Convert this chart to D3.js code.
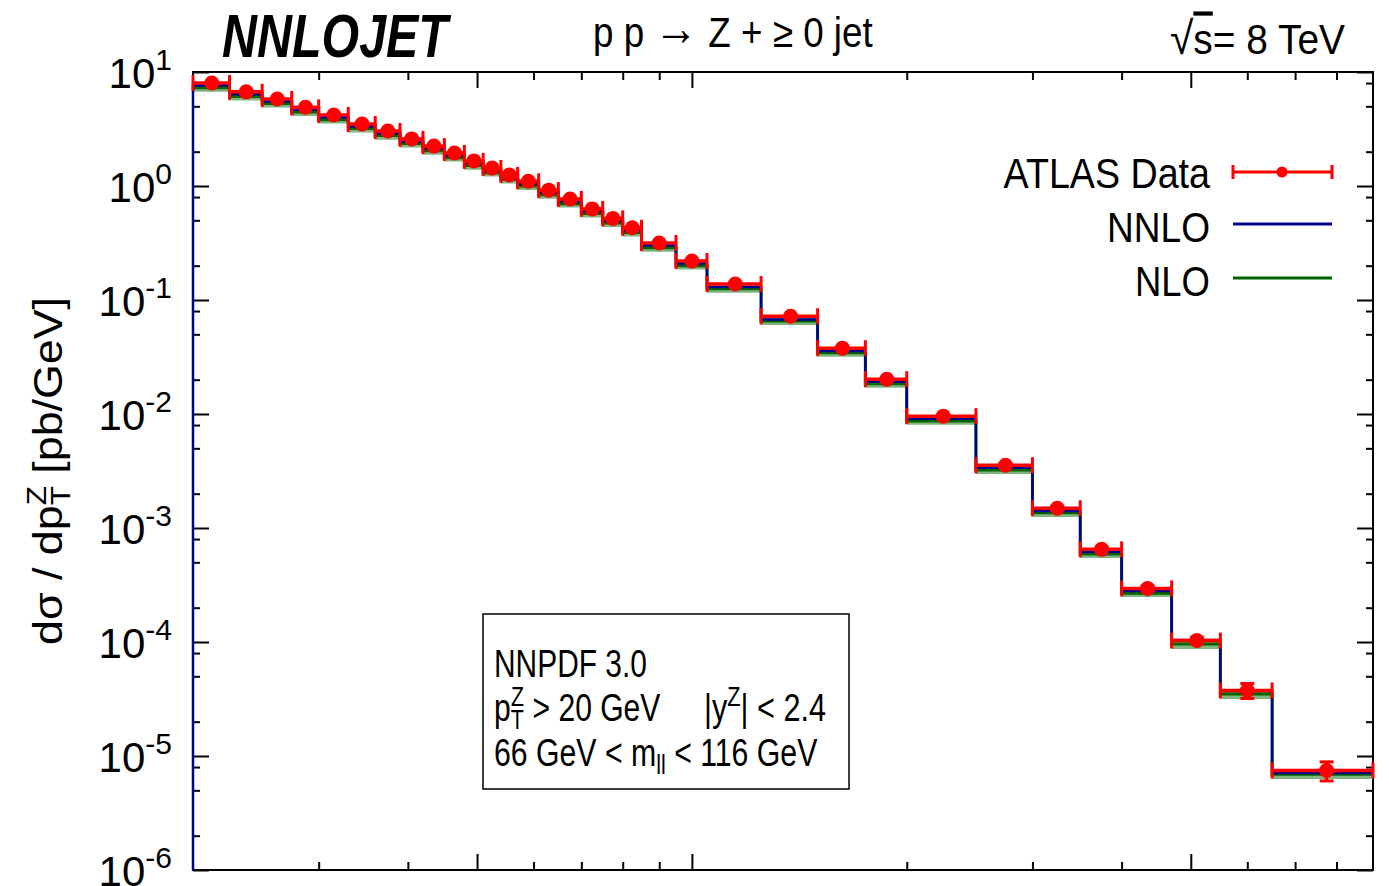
<!DOCTYPE html>
<html>
<head>
<meta charset="utf-8">
<script src="https://cdn.jsdelivr.net/npm/d3@7"></script>
<style>
  body { margin: 0; background: #fff; }
  svg { display: block; }
</style>
</head>
<body>
<div id="wrapper"></div>
<script>
// pT(Z) bin edges [GeV]
const binEdges = [20, 22.5, 25, 27.5, 30, 33, 36, 39, 42, 45, 48, 51, 54, 57, 61, 65, 70, 75, 80, 85, 95, 105, 125, 150, 175, 200, 250, 300, 350, 400, 470, 550, 650, 900];

// dsigma/dpT [pb/GeV], one value per bin
const atlasData = [8.0, 6.7, 5.8, 4.9, 4.2, 3.5, 3.04, 2.59, 2.24, 1.95, 1.66, 1.44, 1.25, 1.1, 0.92, 0.77, 0.63, 0.52, 0.43, 0.316, 0.22, 0.138, 0.072, 0.0378, 0.0202, 0.00957, 0.00355, 0.00149, 0.00065, 0.000295, 0.000103, 3.76e-5, 7.46e-6];
// relative uncertainty of the data
const atlasErr = [0.02, 0.02, 0.02, 0.02, 0.02, 0.02, 0.02, 0.02, 0.02, 0.02, 0.02, 0.02, 0.02, 0.02, 0.02, 0.02, 0.02, 0.02, 0.02, 0.02, 0.02, 0.025, 0.025, 0.025, 0.03, 0.03, 0.035, 0.04, 0.045, 0.05, 0.06, 0.15, 0.19];
const nnlo = [7.6, 6.37, 5.51, 4.66, 3.99, 3.33, 2.89, 2.46, 2.13, 1.85, 1.58, 1.37, 1.19, 1.045, 0.874, 0.73, 0.6, 0.494, 0.409, 0.3, 0.209, 0.13, 0.0675, 0.0357, 0.0192, 0.0091, 0.00337, 0.00141, 0.00062, 0.00028, 0.000104, 3.72e-5, 7.1e-6];
const nlo = [7.28, 6.1, 5.28, 4.46, 3.82, 3.19, 2.77, 2.36, 2.04, 1.77, 1.51, 1.31, 1.14, 1.0, 0.837, 0.7, 0.573, 0.473, 0.391, 0.288, 0.2, 0.1256, 0.0655, 0.0344, 0.0184, 0.0087, 0.00323, 0.00136, 0.00059, 0.000268, 9.6e-5, 3.5e-5, 6.9e-6];
const nloLow = [6.72, 5.63, 4.87, 4.12, 3.53, 2.94, 2.55, 2.18, 1.88, 1.64, 1.39, 1.21, 1.05, 0.924, 0.773, 0.647, 0.529, 0.437, 0.361, 0.265, 0.185, 0.116, 0.0605, 0.0318, 0.017, 0.00804, 0.00298, 0.00125, 0.000546, 0.000248, 8.7e-5, 3.16e-5, 6.27e-6];
const nloHigh = [7.84, 6.57, 5.68, 4.8, 4.12, 3.43, 2.98, 2.54, 2.2, 1.91, 1.63, 1.41, 1.225, 1.08, 0.9, 0.755, 0.617, 0.51, 0.421, 0.31, 0.216, 0.135, 0.0706, 0.037, 0.0198, 0.00938, 0.00348, 0.00146, 0.000637, 0.000289, 0.000101, 3.68e-5, 7.31e-6];

const xMajorTicks = [50, 100, 500];
const xMinorTicks = [30, 40, 60, 70, 80, 90, 200, 300, 400, 600, 700, 800];
const yMajorTicks = [1e1, 1e0, 1e-1, 1e-2, 1e-3, 1e-4, 1e-5, 1e-6];
const yMinorTicks = [8, 5, 2, 0.8, 0.5, 0.2, 0.08, 0.05, 0.02, 0.008, 0.005, 0.002, 8e-4, 5e-4, 2e-4, 8e-5, 5e-5, 2e-5, 8e-6, 5e-6, 2e-6];
const yTickExponents = ['1', '0', '-1', '-2', '-3', '-4', '-5', '-6'];

const fontFamily = '"Liberation Sans", Arial, Helvetica, sans-serif';
const red = '#ff0000';
const blue = '#000090';
const green = '#006400';
const bandGreen = '#7fb67f';

// squeeze a text horizontally so it looks like the narrow helvetica of the original
function placeText(g, x, y, target, rotate) {
  const text = g.select('text');
  const w = text.node().getBBox().width;
  const k = target ? target / w : 1;
  g.attr('transform', `translate(${x},${y})${rotate ? ` rotate(${rotate})` : ''} scale(${k},1)`);
}

function drawChart() {
  // step 1: dimensions
  let dimensions = {
    width: 1389,
    height: 886,
    margin: { top: 72, right: 16, bottom: 16, left: 193 },
  };
  dimensions.boundedWidth = dimensions.width - dimensions.margin.left - dimensions.margin.right;
  dimensions.boundedHeight = dimensions.height - dimensions.margin.top - dimensions.margin.bottom;
  const bw = dimensions.boundedWidth;
  const bh = dimensions.boundedHeight;

  // step 2: canvas
  const wrapper = d3.select('#wrapper')
    .append('svg')
    .attr('width', dimensions.width)
    .attr('height', dimensions.height)
    .style('font-family', fontFamily);
  const bounds = wrapper.append('g')
    .attr('transform', `translate(${dimensions.margin.left},${dimensions.margin.top})`);

  // step 3: scales
  const xScale = d3.scaleLog()
    .domain([binEdges[0], binEdges[binEdges.length - 1]])
    .range([0, bw]);
  const yScale = d3.scaleLog()
    .domain([1e-6, 10])
    .range([bh, 0]);

  // step 4: frame and ticks (drawn first, the histogram sits on top of it)
  bounds.append('rect')
    .attr('width', bw).attr('height', bh)
    .attr('fill', 'none').attr('stroke', '#000').attr('stroke-width', 2);

  const tickAxes = [
    [d3.axisBottom(xScale), xMajorTicks, 16, `translate(0,${bh})`],
    [d3.axisBottom(xScale), xMinorTicks, 8, `translate(0,${bh})`],
    [d3.axisTop(xScale), xMajorTicks, 16, null],
    [d3.axisTop(xScale), xMinorTicks, 8, null],
    [d3.axisLeft(yScale), yMajorTicks, 16, null],
    [d3.axisLeft(yScale), yMinorTicks, 7, null],
    [d3.axisRight(yScale), yMajorTicks, 16, `translate(${bw},0)`],
    [d3.axisRight(yScale), yMinorTicks, 7, `translate(${bw},0)`],
  ];
  tickAxes.forEach(([gen, values, size, tr]) => {
    const ax = bounds.append('g')
      .call(gen.tickValues(values).tickSizeInner(-size).tickSizeOuter(0).tickFormat(''));
    if (tr) ax.attr('transform', tr);
    ax.select('.domain').remove();
    ax.selectAll('line').attr('stroke', '#000').attr('stroke-width', 2);
  });

  // y tick labels 10^n
  yMajorTicks.forEach((v, i) => {
    const g = wrapper.append('g');
    const t = g.append('text')
      .attr('text-anchor', 'end')
      .attr('font-size', 42)
      .attr('fill', '#000');
    t.append('tspan').text('10');
    t.append('tspan').attr('font-size', 30).attr('dy', -18).text(yTickExponents[i]);
    placeText(g, 172, dimensions.margin.top + yScale(v) + 16, null);
  });

  // step 5: theory histograms
  const lastIndex = atlasData.length - 1;
  const stepPoints = arr => binEdges.map((e, i) => ({ x: e, v: arr[Math.min(i, lastIndex)] }));

  const bandGen = d3.area()
    .curve(d3.curveStepAfter)
    .x(d => xScale(d.x))
    .y0(d => yScale(d.lo))
    .y1(d => yScale(d.hi));
  bounds.append('path')
    .datum(binEdges.map((e, i) => ({ x: e, lo: nloLow[Math.min(i, lastIndex)], hi: nloHigh[Math.min(i, lastIndex)] })))
    .attr('d', bandGen)
    .attr('fill', bandGreen);

  const lineGen = d3.line()
    .curve(d3.curveStepAfter)
    .x(d => xScale(d.x))
    .y(d => yScale(d.v));

  bounds.append('path')
    .datum(stepPoints(nlo))
    .attr('d', lineGen)
    .attr('fill', 'none')
    .attr('stroke', green)
    .attr('stroke-width', 3);

  bounds.append('path')
    .datum([{ x: binEdges[0], v: yScale.domain()[0] }].concat(stepPoints(nnlo)))
    .attr('d', lineGen)
    .attr('fill', 'none')
    .attr('stroke', blue)
    .attr('stroke-width', 2.5);

  // step 6: ATLAS data
  const bins = atlasData.map((v, i) => ({
    x0: binEdges[i], x1: binEdges[i + 1], xc: (binEdges[i] + binEdges[i + 1]) / 2,
    v: v, lo: v * (1 - atlasErr[i]), hi: v * (1 + atlasErr[i]),
  }));
  const dataGroup = bounds.append('g')
    .attr('stroke', red)
    .attr('fill', red);
  const capHalf = 8;
  // horizontal bars across the bin
  dataGroup.selectAll('.hbar').data(bins).enter().append('line')
    .attr('x1', d => xScale(d.x0)).attr('x2', d => xScale(d.x1))
    .attr('y1', d => yScale(d.v)).attr('y2', d => yScale(d.v))
    .attr('stroke-width', 3.5);
  dataGroup.selectAll('.lcap').data(bins).enter().append('line')
    .attr('x1', d => xScale(d.x0)).attr('x2', d => xScale(d.x0))
    .attr('y1', d => yScale(d.v) - capHalf).attr('y2', d => yScale(d.v) + capHalf)
    .attr('stroke-width', 3);
  dataGroup.selectAll('.rcap').data(bins).enter().append('line')
    .attr('x1', d => xScale(d.x1)).attr('x2', d => xScale(d.x1))
    .attr('y1', d => yScale(d.v) - capHalf).attr('y2', d => yScale(d.v) + capHalf)
    .attr('stroke-width', 3);
  // vertical uncertainties
  dataGroup.selectAll('.vbar').data(bins).enter().append('line')
    .attr('x1', d => xScale(d.xc)).attr('x2', d => xScale(d.xc))
    .attr('y1', d => yScale(d.lo)).attr('y2', d => yScale(d.hi))
    .attr('stroke-width', 3);
  ['lo', 'hi'].forEach(key => {
    dataGroup.selectAll('.vcap-' + key).data(bins).enter().append('line')
      .attr('x1', d => xScale(d.xc) - 7).attr('x2', d => xScale(d.xc) + 7)
      .attr('y1', d => yScale(d[key])).attr('y2', d => yScale(d[key]))
      .attr('stroke-width', 3);
  });
  dataGroup.selectAll('circle').data(bins).enter().append('circle')
    .attr('cx', d => xScale(d.xc))
    .attr('cy', d => yScale(d.v))
    .attr('r', 7.5)
    .attr('stroke', 'none');

  // step 7: peripherals
  // y axis title
  const yTitle = wrapper.append('g');
  const yt = yTitle.append('text').attr('text-anchor', 'middle').attr('font-size', 40).attr('fill', '#000');
  yt.append('tspan').text('dσ / dp');
  yt.append('tspan').attr('font-size', 28).attr('dy', 8).text('T');
  yt.append('tspan').attr('font-size', 28).attr('dx', -17).attr('dy', -24).text('Z');
  yt.append('tspan').attr('dy', 16).text(' [pb/GeV]');
  placeText(yTitle, 62, 471, 348, -90);

  // header
  const logo = wrapper.append('g');
  logo.append('text')
    .attr('font-size', 62).attr('font-weight', 'bold').attr('font-style', 'italic')
    .attr('fill', '#000').text('NNLOJET');
  placeText(logo, 222, 57, 230);

  const proc = wrapper.append('g');
  const pt = proc.append('text').attr('font-size', 42).attr('fill', '#000');
  pt.append('tspan').text('p p ');
  pt.append('tspan').attr('font-size', 50).attr('font-weight', 'bold').attr('dy', -2).text('→');
  pt.append('tspan').attr('dy', 2).text(' Z + ≥ 0 jet');
  placeText(proc, 593, 47, 280);

  const energy = wrapper.append('g');
  const et = energy.append('text').attr('font-size', 42).attr('fill', '#000');
  et.append('tspan').attr('font-size', 46).text('√');
  et.append('tspan').style('text-decoration', 'overline').text('s');
  et.append('tspan').text('= 8 TeV');
  placeText(energy, 1170, 54, 175);

  // legend
  const legendItems = [
    { label: 'ATLAS Data', width: 207, base: 188, y: 172, color: red },
    { label: 'NNLO', width: 103, base: 242, y: 224, color: blue },
    { label: 'NLO', width: 75, base: 296, y: 278, color: green },
  ];
  legendItems.forEach((item, i) => {
    const g = wrapper.append('g');
    g.append('text').attr('text-anchor', 'end').attr('font-size', 42).attr('fill', '#000').text(item.label);
    placeText(g, 1210, item.base, item.width);
    wrapper.append('line')
      .attr('x1', 1233).attr('x2', 1332).attr('y1', item.y).attr('y2', item.y)
      .attr('stroke', item.color).attr('stroke-width', 3);
    if (i === 0) {
      [1233, 1332].forEach(x => wrapper.append('line')
        .attr('x1', x).attr('x2', x).attr('y1', item.y - 7).attr('y2', item.y + 7)
        .attr('stroke', red).attr('stroke-width', 3));
      wrapper.append('circle').attr('cx', 1282).attr('cy', item.y).attr('r', 5.5).attr('fill', red);
    }
  });

  // info box
  wrapper.append('rect')
    .attr('x', 483).attr('y', 614).attr('width', 366).attr('height', 175)
    .attr('fill', '#fff').attr('stroke', '#000').attr('stroke-width', 1.5);

  const l1 = wrapper.append('g');
  l1.append('text').attr('font-size', 38).attr('fill', '#000').text('NNPDF 3.0');
  placeText(l1, 494, 677, 153);

  const l2 = wrapper.append('g');
  const l2t = l2.append('text').attr('font-size', 38).attr('fill', '#000');
  l2t.append('tspan').text('p');
  l2t.append('tspan').attr('font-size', 27).attr('dy', 8).text('T');
  l2t.append('tspan').attr('font-size', 27).attr('dx', -16).attr('dy', -23).text('Z');
  l2t.append('tspan').attr('dy', 15).text(' > 20 GeV');
  placeText(l2, 494, 721, 167);

  const l2b = wrapper.append('g');
  const l2bt = l2b.append('text').attr('font-size', 38).attr('fill', '#000');
  l2bt.append('tspan').text('|y');
  l2bt.append('tspan').attr('font-size', 27).attr('dy', -15).text('Z');
  l2bt.append('tspan').attr('dy', 15).text('| < 2.4');
  placeText(l2b, 704, 721, 122);

  const l3 = wrapper.append('g');
  const l3t = l3.append('text').attr('font-size', 38).attr('fill', '#000');
  l3t.append('tspan').text('66 GeV < m');
  l3t.append('tspan').attr('font-size', 27).attr('dy', 8).text('ll');
  l3t.append('tspan').attr('dy', -8).text(' < 116 GeV');
  placeText(l3, 494, 766, 324);
}

drawChart();
</script>
</body>
</html>
